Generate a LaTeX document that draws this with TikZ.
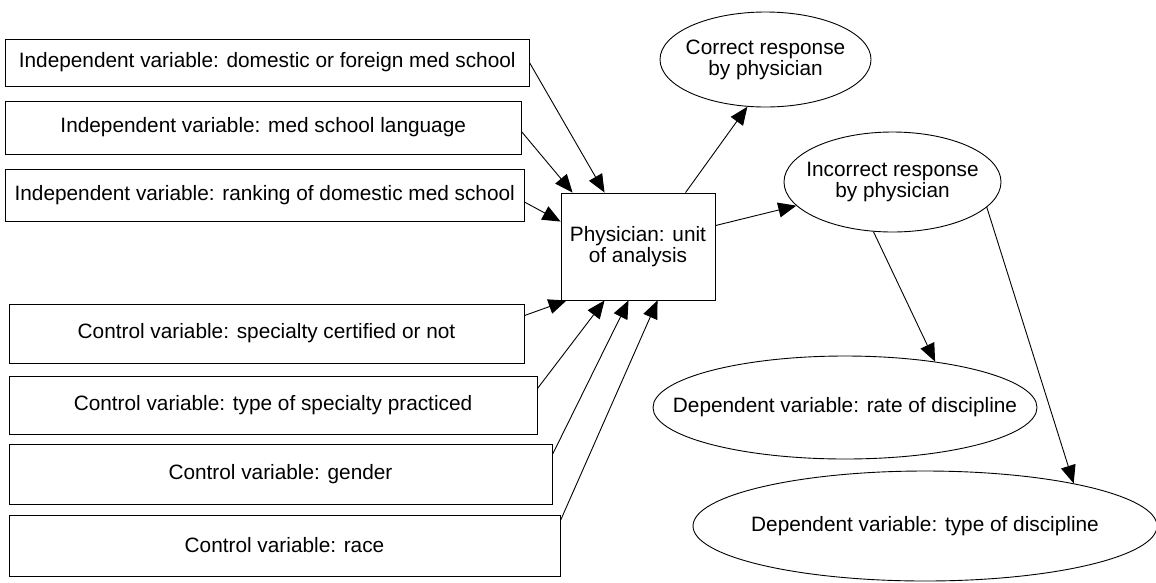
\documentclass[tikz,border=0pt]{standalone}
\usepackage{fontspec}
\setmainfont{Liberation Sans}
\usetikzlibrary{arrows.meta,shapes.geometric}
\begin{document}
\begin{tikzpicture}[x=1pt,y=-1pt,
  every node/.style={font=\fontsize{20.8}{21}\selectfont, inner sep=0pt},
  box/.style={draw, rectangle, line width=0.9pt},
  oval/.style={draw, ellipse, line width=0.9pt, align=center, inner sep=-120pt},
  arr/.style={-{Triangle[length=18pt,width=15pt]}, line width=0.9pt}]
\useasboundingbox (0,0) rectangle (1156,582);
\node[box, minimum width=523.5pt, minimum height=47pt] (b1) at (267.25,62.5) {Independent variable: domestic or foreign med school};
\node[box, minimum width=515.5pt, minimum height=53pt] (b2) at (263.25,127.5) {Independent variable: med school language};
\node[box, minimum width=518.5pt, minimum height=52pt] (b3) at (264.75,195) {Independent variable: ranking of domestic med school};
\node[box, minimum width=515pt, minimum height=59pt] (b4) at (266.5,333.5) {Control variable: specialty certified or not};
\node[box, minimum width=528pt, minimum height=58pt] (b5) at (273,405) {Control variable: type of specialty practiced};
\node[box, minimum width=543pt, minimum height=60pt] (b6) at (280.5,474) {Control variable: gender};
\node[box, minimum width=551pt, minimum height=61pt] (b7) at (284.5,545.5) {Control variable: race};
\node[box, align=center, minimum width=154pt, minimum height=107pt] (c) at (638,246.5) {Physician: unit\\of analysis};
\node[oval, minimum width=211pt, minimum height=95pt] (cor) at (765.5,59.5) {Correct response\\by physician};
\node[oval, minimum width=217pt, minimum height=100pt] (inc) at (892.5,182) {Incorrect response\\by physician};
\node[oval, minimum width=384pt, minimum height=103pt] (rate) at (845,407.5) {Dependent variable: rate of discipline};
\node[oval, minimum width=464pt, minimum height=110pt] (typ) at (925,526) {Dependent variable: type of discipline};
\draw[arr] (b1.east) -- ([xshift=44pt]c.north west);
\draw[arr] ([yshift=-4pt]b2.east) -- ([xshift=12pt]c.north west);
\draw[arr] ([yshift=-7pt]b3.east) -- ([yshift=-29pt]c.north west);
\draw[arr] ([yshift=-12pt]b4.north east) -- ([xshift=6pt]c.south west);
\draw[arr] ([yshift=-13pt]b5.north east) -- ([xshift=44pt]c.south west);
\draw[arr] ([yshift=-11pt]b6.north east) -- ([xshift=68pt]c.south west);
\draw[arr] ([yshift=-6pt]b7.north east) -- ([xshift=97pt]c.south west);
\draw[arr] ([xshift=125pt]c.north west) -- (cor.249.4);
\draw[arr] ([yshift=-33pt]c.north east) -- (inc);
\draw[arr] (inc.249) -- (rate.27.6);
\draw[arr] (inc.345) -- (typ.16);
\end{tikzpicture}
\end{document}
